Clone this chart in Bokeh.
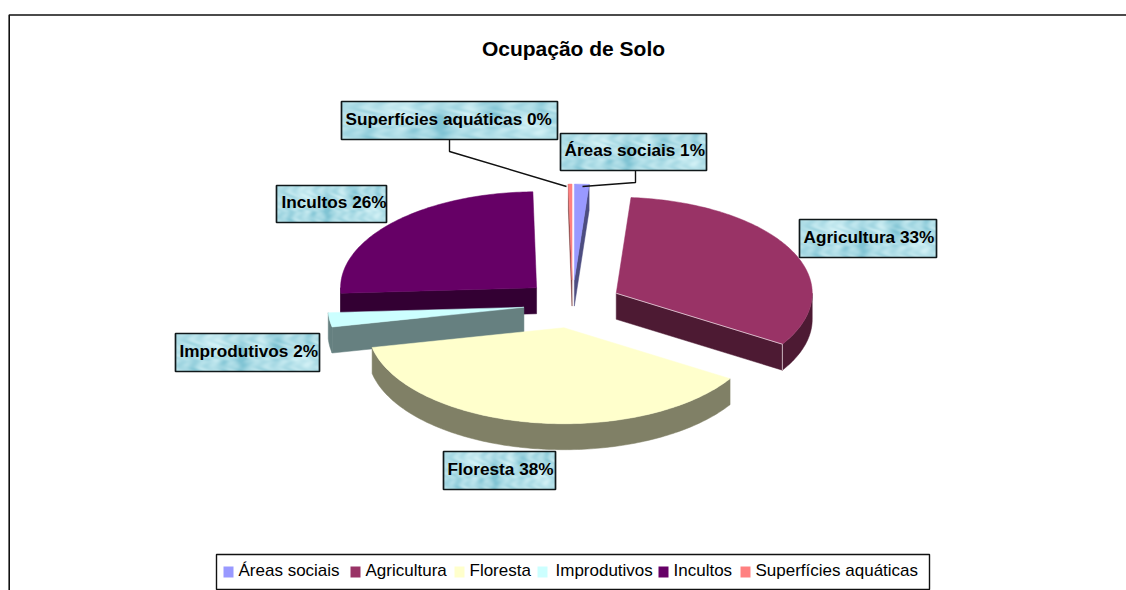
import numpy as np
from bokeh.core.properties import value
from bokeh.embed import file_html
from bokeh.models import Range1d
from bokeh.plotting import figure
from bokeh.resources import INLINE

# ---- data ----
categories = ["Áreas sociais", "Agricultura", "Floresta", "Improdutivos", "Incultos", "Superfícies aquáticas"]
shares = [1.2, 32.7, 37.8, 2.4, 25.6, 0.3]
colors = ["#9999FF", "#993366", "#FFFFCC", "#CCFFFF", "#660066", "#FF8080"]
walls = ["#4D4D80", "#4D1A33", "#808066", "#668080", "#330033", "#804040"]
title = "Ocupação de Solo"

# ---- layout (page pixels) ----
W, H = 1126, 590
CX, CY, RX, RY, EX, EY, DEPTH = 572.0, 303.6, 196.0, 96.0, 49.0, 24.0, 26.0
label_boxes = [(560, 133, 706, 170), (799, 219, 936, 257), (443, 451, 555, 489),
               (175, 333, 319, 371), (276, 185, 386, 222), (341, 101, 557, 139)]
label_text_x = [564, 803, 447, 179, 281, 345]
legend_box = (216, 554, 929, 589)
legend_sw = [223, 350, 454, 537, 658, 740]
legend_tx = [238, 365, 469, 555, 673, 755]
TEXT_SHIFT = 8  # the page's alphabetic text sits this far below the requested y


def X(px):
    return np.asarray(px, dtype=float)


def Y(py):
    return H - np.asarray(py, dtype=float)


p = figure(width=W, height=H, output_backend="svg", toolbar_location=None,
           x_range=Range1d(0, W), y_range=Range1d(0, H), min_border=0,
           outline_line_color=None, background_fill_color="white", border_fill_color="white")
p.axis.visible = False
p.grid.visible = False

# chart area border
p.line(X([8.7, 8.7, 1130]), Y([600, 14.5, 14.5]), line_color="#111111", line_width=1.6)

FONT = value("Liberation Sans")

# ---- pie geometry from the shares ----
edges = np.concatenate([[0], np.cumsum(shares)]) / np.sum(shares) * 2 * np.pi
slices = []
for i in range(len(shares)):
    s, e = edges[i], edges[i + 1]
    m = (s + e) / 2
    slices.append((CY - EY * np.cos(m), i, s, e, CX + EX * np.sin(m)))
slices.sort()


def arc(ax, ay, a0, a1):
    t = np.linspace(a0, a1, max(2, int(abs(a1 - a0) * 60)))
    return ax + RX * np.sin(t), ay - RY * np.cos(t)


for ay, i, s, e, ax in slices:
    wc = walls[i]
    # radial walls facing the viewer
    for a, show in ((s, np.sin(s) < 0), (e, np.sin(e) > 0)):
        if show:
            ox, oy = ax + RX * np.sin(a), ay - RY * np.cos(a)
            p.patch(X([ax, ox, ox, ax]), Y([ay, oy, oy + DEPTH, ay + DEPTH]), fill_color=wc, line_color=wc, line_width=0.5)
    # curved wall
    lo, hi = max(s, np.pi / 2), min(e, 3 * np.pi / 2)
    if lo < hi:
        ux, uy = arc(ax, ay, lo, hi)
        px_ = np.concatenate([ux, ux[::-1]])
        py_ = np.concatenate([uy, uy[::-1] + DEPTH])
        p.patch(X(px_), Y(py_), fill_color=wc, line_color=wc, line_width=0.5)
    # top face
    ux, uy = arc(ax, ay, s, e)
    p.patch(X(np.concatenate([[ax], ux])), Y(np.concatenate([[ay], uy])),
            fill_color=colors[i], line_color=colors[i], line_width=0.5)
    # light edge along the front corner of Agricultura
    if categories[i] == "Agricultura":
        ox, oy = ax + RX * np.sin(e), ay - RY * np.cos(e)
        p.line(X([ax, ox, ox]), Y([ay, oy, oy + DEPTH]), line_color="#E8D8E0", line_width=0.8)


# ---- leader lines ----
p.line(X([449, 449, 566]), Y([139, 151, 186]), line_color="#111111", line_width=1.4)
p.line(X([582, 635, 635]), Y([186, 182, 170]), line_color="#111111", line_width=1.4)


# ---- marbled label fill, one deterministic pattern stretched on every box ----
def marble(w, h):
    u, v = np.meshgrid(np.linspace(0, 1, w), np.linspace(0, 1, h))
    t = 0.62 + 0.14 * np.sin(31 * u + 4 * np.sin(9 * v)) * np.sin(9 * v + 7 * u) \
        + 0.10 * np.sin(67 * u + 13 * v + 2 * np.sin(17 * v))
    for cu, cv, su, sv, amp in ((0.46, 0.3, 0.035, 0.45, -0.8), (0.70, 0.75, 0.05, 0.3, -0.5),
                                (0.12, 0.1, 0.04, 0.3, -0.35), (0.27, 0.75, 0.08, 0.25, 0.35),
                                (0.88, 0.3, 0.06, 0.3, 0.35), (0.6, 0.75, 0.05, 0.2, 0.3),
                                (0.93, 0.85, 0.03, 0.3, -0.4), (0.34, 0.2, 0.03, 0.25, -0.3)):
        t = t + amp * np.exp(-((u - cu) / su) ** 2 - ((v - cv) / sv) ** 2)
    t = np.clip(t, 0, 1)
    dark, light = np.array([128, 196, 212.0]), np.array([208, 240, 245.0])
    rgb = dark[None, None, :] + (light - dark)[None, None, :] * t[:, :, None]
    img = np.zeros((h, w), dtype=np.uint32)
    view = img.view(dtype=np.uint8).reshape((h, w, 4))
    view[:, :, :3] = rgb.astype(np.uint8)
    view[:, :, 3] = 255
    return img


for i, (x0, y0, x1, y1) in enumerate(label_boxes):
    p.image_rgba(image=[marble(int(x1 - x0), int(y1 - y0))], x=[float(X(x0))], y=[float(Y(y1))],
                 dw=[x1 - x0], dh=[y1 - y0])
    p.patch(X([x0, x1, x1, x0]), Y([y0, y0, y1, y1]), fill_color=None, line_color="#10181A", line_width=1.7)
    p.text(x=[float(X(label_text_x[i]))], y=[float(Y((y0 + y1) / 2 + 6 - TEXT_SHIFT))],
           text=[f"{categories[i]} {shares[i]:.0f}%"], text_font=FONT, text_font_style="bold",
           text_font_size="17.2px", text_color="#000000", text_align="left", text_baseline="alphabetic")

# ---- title ----
p.text(x=[float(X(573))], y=[float(Y(56 - TEXT_SHIFT))], text=[title], text_font=FONT, text_font_style="bold",
       text_font_size="21px", text_color="#000000", text_align="center", text_baseline="alphabetic")

# ---- legend ----
lx0, ly0, lx1, ly1 = legend_box
p.patch(X([lx0, lx1, lx1, lx0]), Y([ly0, ly0, ly1, ly1]), fill_color="white", line_color="#111111", line_width=1.4)
for i, name in enumerate(categories):
    sx = legend_sw[i]
    p.patch(X([sx, sx + 10, sx + 10, sx]), Y([566, 566, 577, 577]), fill_color=colors[i], line_color=None)
    p.text(x=[float(X(legend_tx[i]))], y=[float(Y(578 - TEXT_SHIFT))], text=[name], text_font=FONT,
           text_font_size="17px", text_color="#000000", text_align="left", text_baseline="alphabetic")

open("out.html", "w").write(file_html(p, INLINE))
